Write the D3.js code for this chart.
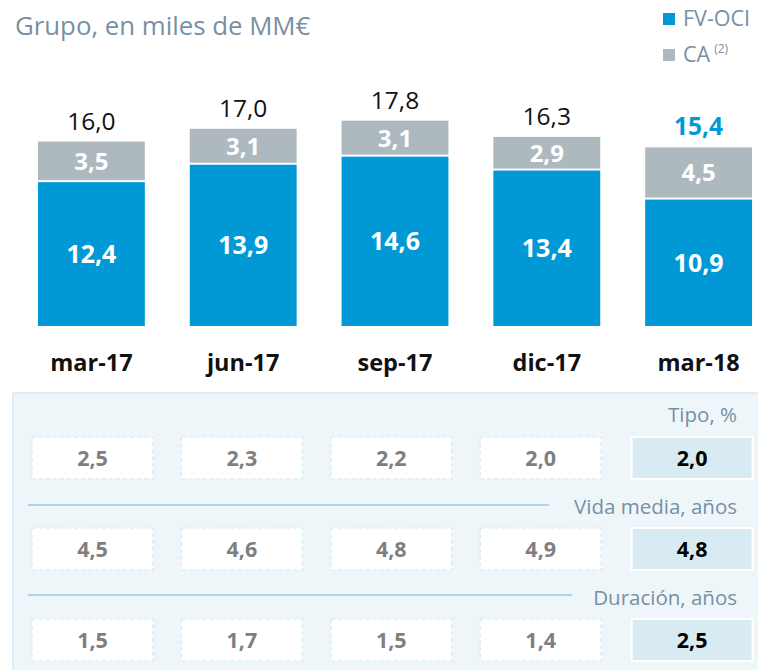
<!DOCTYPE html>
<html>
<head>
<meta charset="utf-8">
<script src="https://cdn.jsdelivr.net/npm/d3@7"></script>
<style>
  body { margin: 0; background: #fff; }
  svg { display: block; }
</style>
</head>
<body>
<div id="chart"></div>
<script>
const width = 758
const height = 670

// data
const periods = ["mar-17", "jun-17", "sep-17", "dic-17", "mar-18"]
const fvoci = [12.4, 13.9, 14.6, 13.4, 10.9]
const ca = [3.5, 3.1, 3.1, 2.9, 4.5]
const totals = [16.0, 17.0, 17.8, 16.3, 15.4]

const tableRows = ["Tipo, %", "Vida media, años", "Duración, años"]
const tipo = [2.5, 2.3, 2.2, 2.0, 2.0]
const vidaMedia = [4.5, 4.6, 4.8, 4.9, 4.8]
const duracion = [1.5, 1.7, 1.5, 1.4, 2.5]

const blue = "#0099d6"
const grey = "#adb9bf"
const labelGrey = "#7790a4"
const font = "Open Sans, sans-serif"
const fmt = v => d3.format(".1f")(v).replace(".", ",")

const svg = d3.select("#chart")
  .append("svg")
  .attr("width", width)
  .attr("height", height)
  .style("font-family", font)

// title
svg.append("text")
  .attr("x", 15).attr("y", 35)
  .attr("fill", labelGrey)
  .style("font-size", "25.8px")
  .text("Grupo, en miles de MM€")

// legend
const legend = svg.append("g").attr("transform", "translate(663,13)")
legend.append("rect").attr("width", 12).attr("height", 12).attr("fill", blue)
legend.append("text").attr("x", 20).attr("y", 13)
  .attr("fill", labelGrey).style("font-size", "21.5px").text("FV-OCI")
legend.append("rect").attr("y", 36).attr("width", 12).attr("height", 12).attr("fill", grey)
const caText = legend.append("text").attr("x", 20).attr("y", 49)
  .attr("fill", labelGrey).style("font-size", "21.5px")
caText.append("tspan").text("CA")
caText.append("tspan").attr("dx", 4).attr("dy", -9).style("font-size", "12px").text("(2)")

// bars
const x = d3.scaleBand()
  .domain(periods)
  .range([15.5, 774.5])
  .paddingInner(0.296)
  .paddingOuter(0.148)

const y = d3.scaleLinear().domain([0, 20]).range([326, 94])

const stacked = periods.map((p, i) => ({period: p, fv: fvoci[i], ca: ca[i], total: totals[i], last: i === periods.length - 1}))

const bars = svg.append("g")
  .selectAll("g")
  .data(stacked)
  .join("g")
  .attr("transform", d => `translate(${x(d.period)},0)`)

bars.append("rect")
  .attr("y", d => y(d.fv))
  .attr("width", x.bandwidth())
  .attr("height", d => y(0) - y(d.fv))
  .attr("fill", blue)

bars.append("rect")
  .attr("y", d => y(d.fv + d.ca))
  .attr("width", x.bandwidth())
  .attr("height", d => y(d.fv) - y(d.fv + d.ca) - 2)
  .attr("fill", grey)

bars.append("text")
  .attr("x", x.bandwidth() / 2)
  .attr("y", d => (y(0) + y(d.fv)) / 2 + 9)
  .attr("text-anchor", "middle")
  .attr("fill", "#fff")
  .style("font-size", "25px").style("font-weight", "bold")
  .text(d => fmt(d.fv))

bars.append("text")
  .attr("x", x.bandwidth() / 2)
  .attr("y", d => (y(d.fv) + y(d.fv + d.ca)) / 2 + 8)
  .attr("text-anchor", "middle")
  .attr("fill", "#fff")
  .style("font-size", "24px").style("font-weight", "bold")
  .text(d => fmt(d.ca))

bars.append("text")
  .attr("x", x.bandwidth() / 2)
  .attr("y", d => y(d.fv + d.ca) - 12)
  .attr("text-anchor", "middle")
  .attr("fill", d => d.last ? blue : "#111")
  .style("font-size", "24.5px")
  .style("font-weight", d => d.last ? "bold" : "normal")
  .text(d => fmt(d.total))

bars.append("text")
  .attr("x", x.bandwidth() / 2)
  .attr("y", 371)
  .attr("text-anchor", "middle")
  .attr("fill", "#111")
  .style("font-size", "23.5px").style("font-weight", "bold")
  .text(d => d.period)

// table panel
const panel = svg.append("g")
panel.append("rect")
  .attr("x", 13).attr("y", 393)
  .attr("width", width - 12).attr("height", 290)
  .attr("fill", "#eef6f9")
  .attr("stroke", "#d3e9f1").attr("stroke-width", 1.5)

const tx = d3.scaleBand()
  .domain(periods)
  .range([17.8, 764.8])
  .paddingInner(0.19)
  .paddingOuter(0.095)

const rowsData = [
  {label: tableRows[0], values: tipo, top: 437, labelY: 422, line: null},
  {label: tableRows[1], values: vidaMedia, top: 528, labelY: 514, line: {y: 505, x2: 549}},
  {label: tableRows[2], values: duracion, top: 619, labelY: 605, line: {y: 595, x2: 572}}
]
const boxH = 42

rowsData.forEach(row => {
  if (row.line) {
    panel.append("line")
      .attr("x1", 28).attr("x2", row.line.x2)
      .attr("y1", row.line.y).attr("y2", row.line.y)
      .attr("stroke", "#a9d6e4").attr("stroke-width", 2)
  }
  panel.append("text")
    .attr("x", 737).attr("y", row.labelY)
    .attr("text-anchor", "end")
    .attr("fill", labelGrey)
    .style("font-size", "20.5px")
    .text(row.label)

  const cells = panel.append("g")
    .selectAll("g")
    .data(row.values.map((v, i) => ({v, period: periods[i], last: i === periods.length - 1})))
    .join("g")
    .attr("transform", d => `translate(${tx(d.period) + (d.last ? 2 : 0)},${row.top})`)

  cells.append("rect")
    .attr("width", tx.bandwidth())
    .attr("height", boxH)
    .attr("fill", d => d.last ? "#d9ebf2" : "#fff")
    .attr("stroke", d => d.last ? "#fff" : "#d4e9f0")
    .attr("stroke-width", d => d.last ? 2 : 1.2)
    .attr("stroke-dasharray", d => d.last ? null : "4,3")

  cells.append("text")
    .attr("x", tx.bandwidth() / 2)
    .attr("y", boxH / 2 + 8)
    .attr("text-anchor", "middle")
    .attr("fill", d => d.last ? "#000" : "#7f7f7f")
    .style("font-size", "21.5px").style("font-weight", "bold")
    .text(d => fmt(d.v))
})
</script>
</body>
</html>
